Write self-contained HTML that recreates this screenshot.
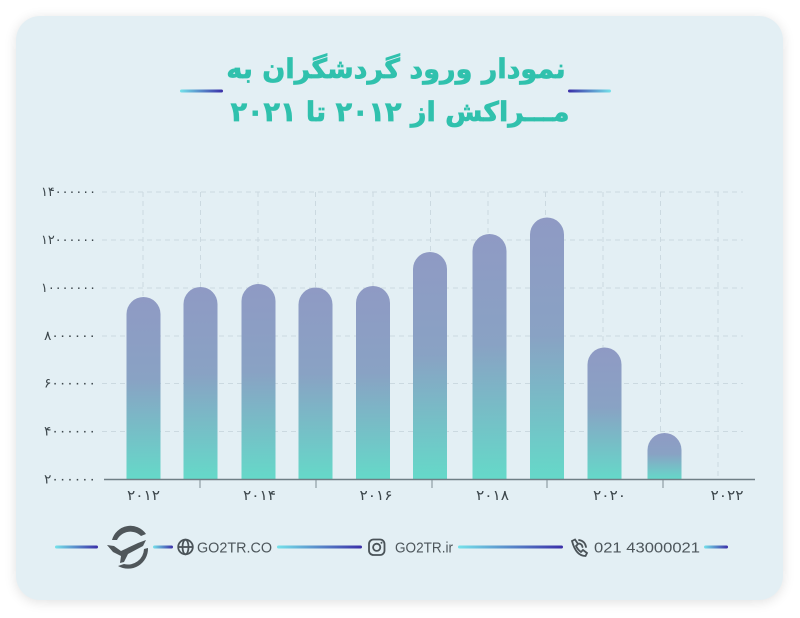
<!DOCTYPE html>
<html><head><meta charset="utf-8"><style>
html,body{margin:0;padding:0;background:#fff;}
body{width:800px;height:618px;position:relative;overflow:hidden;}
.card{position:absolute;left:16px;top:16px;width:767px;height:584px;border-radius:24px;background:#e3eff4;box-shadow:0 2px 12px rgba(0,0,0,0.12);}
svg{position:absolute;left:0;top:0;}
.t{position:absolute;left:0;width:800px;text-align:center;font-family:"DejaVu Sans",sans-serif;font-weight:bold;color:#30c1ad;-webkit-text-stroke:0.7px #30c1ad;direction:rtl;white-space:nowrap;}
</style></head><body>
<div class="card"></div>
<div class="t" style="top:52px;left:-4px;font-size:27px;line-height:36px;">نمودار ورود گردشگران به</div>
<div class="t" style="top:95px;font-size:27px;line-height:36px;">مـــراکش از ۲۰۱۲ تا ۲۰۲۱</div>
<svg width="800" height="618" viewBox="0 0 800 618" xmlns="http://www.w3.org/2000/svg">
<defs>
<linearGradient id="bar" x1="0" y1="0" x2="0" y2="1">
<stop offset="0" stop-color="#8f9ac4"/>
<stop offset="0.45" stop-color="#89a2c4"/>
<stop offset="1" stop-color="#65d9c9"/>
</linearGradient>
<linearGradient id="ln" x1="0" y1="0" x2="1" y2="0">
<stop offset="0" stop-color="#74e2ea"/>
<stop offset="1" stop-color="#3a2ea8"/>
</linearGradient>
<linearGradient id="lnr" x1="0" y1="0" x2="1" y2="0">
<stop offset="0" stop-color="#3a2ea8"/>
<stop offset="1" stop-color="#74e2ea"/>
</linearGradient>
</defs>
<!-- title deco lines -->
<rect x="180" y="89.5" width="43" height="3" rx="1.5" fill="url(#ln)"/>
<rect x="568" y="89.5" width="43" height="3" rx="1.5" fill="url(#lnr)"/>

<!-- grid -->
<g stroke="#cbd9e0" stroke-width="1" stroke-dasharray="5,4" fill="none">
<line x1="102" y1="192" x2="743" y2="192"/>
<line x1="102" y1="240" x2="743" y2="240"/>
<line x1="102" y1="288" x2="743" y2="288"/>
<line x1="102" y1="336" x2="743" y2="336"/>
<line x1="102" y1="383.5" x2="743" y2="383.5"/>
<line x1="102" y1="431.5" x2="743" y2="431.5"/>
<line x1="143" y1="192" x2="143" y2="479"/>
<line x1="200.5" y1="192" x2="200.5" y2="479"/>
<line x1="258" y1="192" x2="258" y2="479"/>
<line x1="315.5" y1="192" x2="315.5" y2="479"/>
<line x1="373" y1="192" x2="373" y2="479"/>
<line x1="430.5" y1="192" x2="430.5" y2="479"/>
<line x1="488" y1="192" x2="488" y2="479"/>
<line x1="545.5" y1="192" x2="545.5" y2="479"/>
<line x1="603" y1="192" x2="603" y2="479"/>
<line x1="660.5" y1="192" x2="660.5" y2="479"/>
<line x1="718" y1="192" x2="718" y2="479"/>
</g>

<!-- bars -->
<g fill="url(#bar)">
<path d="M126.5,479.5 V314 A17,17 0 0 1 160.5,314 V479.5 Z"/>
<path d="M183.5,479.5 V304 A17,17 0 0 1 217.5,304 V479.5 Z"/>
<path d="M241.5,479.5 V301 A17,17 0 0 1 275.5,301 V479.5 Z"/>
<path d="M298.5,479.5 V304.5 A17,17 0 0 1 332.5,304.5 V479.5 Z"/>
<path d="M356,479.5 V303 A17,17 0 0 1 390,303 V479.5 Z"/>
<path d="M413,479.5 V269 A17,17 0 0 1 447,269 V479.5 Z"/>
<path d="M472.5,479.5 V251 A17,17 0 0 1 506.5,251 V479.5 Z"/>
<path d="M530,479.5 V234.5 A17,17 0 0 1 564,234.5 V479.5 Z"/>
<path d="M587.5,479.5 V364.5 A17,17 0 0 1 621.5,364.5 V479.5 Z"/>
<path d="M647.5,479.5 V450 A17,17 0 0 1 681.5,450 V479.5 Z"/>
</g>

<!-- axis -->
<line x1="104" y1="479.5" x2="755" y2="479.5" stroke="#6f7e85" stroke-width="1.6"/>
<g stroke="#7f8d93" stroke-width="1">
<line x1="200" y1="480" x2="200" y2="488"/>
<line x1="316" y1="480" x2="316" y2="488"/>
<line x1="432" y1="480" x2="432" y2="488"/>
<line x1="547" y1="480" x2="547" y2="488"/>
<line x1="663" y1="480" x2="663" y2="488"/>
</g>

<!-- y labels -->
<g font-family="DejaVu Sans, sans-serif" font-size="13" fill="#3d474c" text-anchor="end">
<text x="96" y="196" textLength="55" lengthAdjust="spacingAndGlyphs">۱۴۰۰۰۰۰۰</text>
<text x="96" y="244" textLength="55" lengthAdjust="spacingAndGlyphs">۱۲۰۰۰۰۰۰</text>
<text x="96" y="292" textLength="55" lengthAdjust="spacingAndGlyphs">۱۰۰۰۰۰۰۰</text>
<text x="96" y="340" textLength="52" lengthAdjust="spacingAndGlyphs">۸۰۰۰۰۰۰</text>
<text x="96" y="387.5" textLength="52" lengthAdjust="spacingAndGlyphs">۶۰۰۰۰۰۰</text>
<text x="96" y="435.5" textLength="52" lengthAdjust="spacingAndGlyphs">۴۰۰۰۰۰۰</text>
<text x="96" y="483.5" textLength="52" lengthAdjust="spacingAndGlyphs">۲۰۰۰۰۰۰</text>
</g>
<!-- x labels -->
<g font-family="DejaVu Sans, sans-serif" font-size="14" fill="#3d474c" text-anchor="middle">
<text x="143.5" y="500" textLength="33" lengthAdjust="spacingAndGlyphs">۲۰۱۲</text>
<text x="259.5" y="500" textLength="33" lengthAdjust="spacingAndGlyphs">۲۰۱۴</text>
<text x="376" y="500" textLength="33" lengthAdjust="spacingAndGlyphs">۲۰۱۶</text>
<text x="492.5" y="500" textLength="33" lengthAdjust="spacingAndGlyphs">۲۰۱۸</text>
<text x="609.5" y="500" textLength="33" lengthAdjust="spacingAndGlyphs">۲۰۲۰</text>
<text x="727" y="500" textLength="33" lengthAdjust="spacingAndGlyphs">۲۰۲۲</text>
</g>

<!-- footer lines -->
<g fill="url(#ln)">
<rect x="55" y="545.5" width="43" height="3" rx="1.5"/>
<rect x="153" y="545.5" width="20" height="3" rx="1.5"/>
<rect x="277" y="545.5" width="85" height="3" rx="1.5"/>
<rect x="458" y="545.5" width="105" height="3" rx="1.5"/>
<rect x="704" y="545.5" width="24" height="3" rx="1.5"/>
</g>

<!-- logo -->
<g fill="#4f565a">
<path d="M112,540 A19,19 0 0 1 146,534 L141,536 A15,15 0 0 0 117,540 Z"/>
<path d="M148,548 A20,20 0 0 1 118,566 L124,564 A16,16 0 0 0 144,549 Z"/>
<path d="M107,545 L114,546 L121,551 L138,543 L146,540 L143,546 L128,554 L124,562 L120,563 L121,556 L113,552 Z"/>
</g>

<!-- globe -->
<g fill="none" stroke="#4a5358" stroke-width="1.8">
<circle cx="185.5" cy="547" r="7.3"/>
<ellipse cx="185.5" cy="547" rx="3" ry="7.3"/>
<line x1="178.2" y1="547" x2="192.8" y2="547"/>
</g>
<!-- instagram -->
<g fill="none" stroke="#4a5358" stroke-width="1.8">
<rect x="369" y="539.5" width="15.5" height="15.5" rx="4.5"/>
<circle cx="376.7" cy="547.3" r="3.6"/>
</g>
<circle cx="381.5" cy="542.8" r="1" fill="#4a5358"/>
<!-- phone -->
<g fill="none" stroke="#4a5358" stroke-width="1.8" stroke-linecap="round">
<path d="M572,541 L575,539.5 L578,544 L576,546 Q578,550 581,552 L583,550 L587,553 L585.5,556 Q576,556 572,541 Z"/>
<path d="M579,540 Q585,541 586,547"/>
<path d="M579,543.5 Q582,544 582.5,547"/>
</g>

<!-- footer text -->
<g font-family="Liberation Sans, sans-serif" font-size="15" fill="#4d565b">
<text x="197" y="552.5" textLength="75" lengthAdjust="spacingAndGlyphs">GO2TR.CO</text>
<text x="395" y="552.5" textLength="58" lengthAdjust="spacingAndGlyphs">GO2TR.ir</text>
<text x="594" y="552.5" textLength="106" lengthAdjust="spacingAndGlyphs">021 43000021</text>
</g>
</svg>
</body></html>
